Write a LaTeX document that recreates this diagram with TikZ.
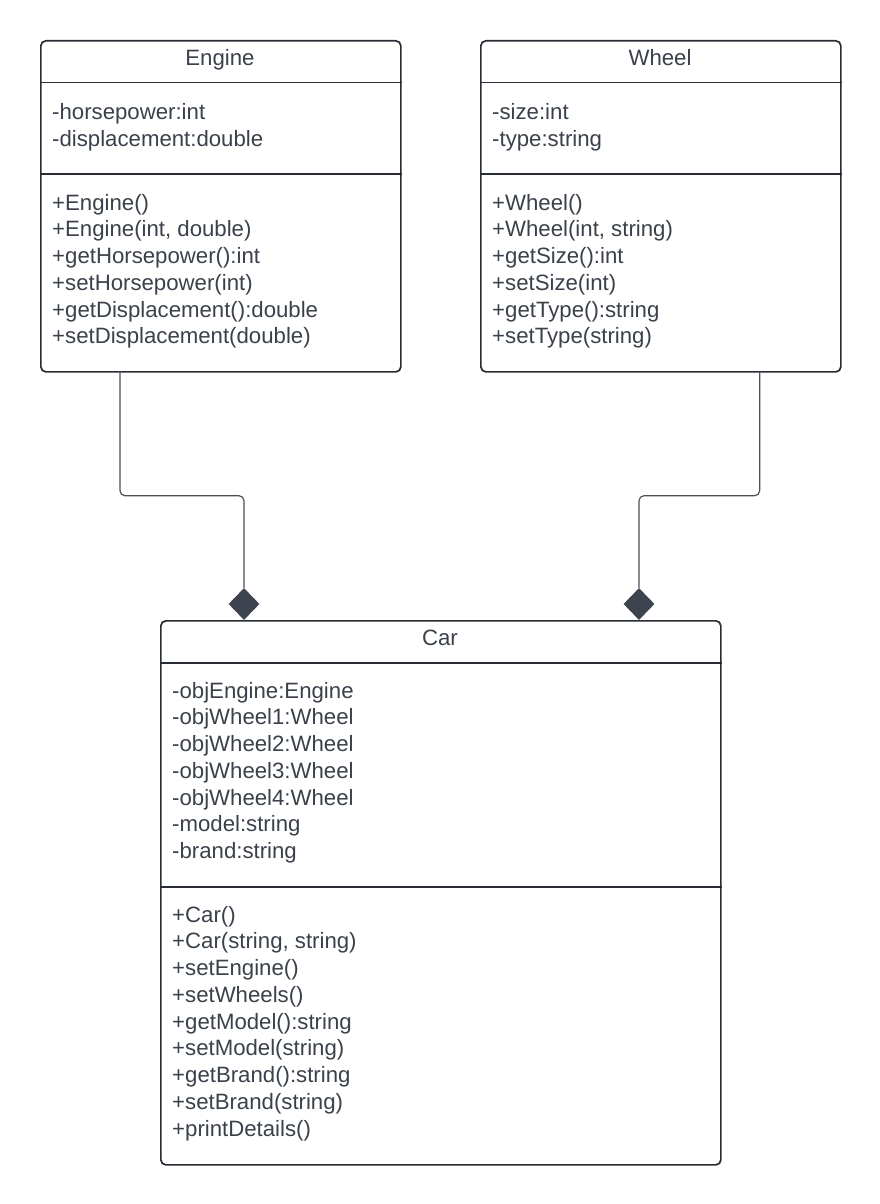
\documentclass[tikz,border=0pt]{standalone}
\usepackage{fontspec}
\setmainfont{Liberation Sans}
\usetikzlibrary{shapes.geometric}
\definecolor{linec}{HTML}{282C33}
\definecolor{textc}{HTML}{3A414A}
\definecolor{connc}{HTML}{4A5058}
\definecolor{diamc}{HTML}{3D4450}
\newcommand\classlines[4]{%
  \foreach \t [count=\i from 0] in {#4}
    \node[txt] (#1\i) at (#2, #3+\i*26.75) {\t};}
\begin{document}
\begin{tikzpicture}[x=1pt,y=-1pt,
  classbox/.style={draw=linec, line width=1.7pt, rounded corners=5pt, anchor=north west, inner sep=0pt},
  sepline/.style={draw=linec, line width=1.7pt},
  ttl/.style={font=\fontsize{22.2}{26}\selectfont, text=textc, anchor=base, inner sep=0pt},
  txt/.style={font=\fontsize{22.2}{26}\selectfont, text=textc, anchor=base west, inner sep=0pt},
  conn/.style={draw=connc, line width=1.2pt, rounded corners=5pt},
  comp/.style={diamond, fill=diamc, minimum width=31pt, minimum height=32pt, inner sep=0pt}]
\useasboundingbox (0,0) rectangle (880,1204);

% Engine
\node[classbox, minimum width=360pt, minimum height=331pt] (engine) at (40,40) {};
\node[ttl] (engineT) at (220,66) {Engine};
\draw[sepline] (engine.west |- 0,82.5) -- (engine.east |- 0,82.5);
\draw[sepline] (engine.west |- 0,174) -- (engine.east |- 0,174);
\classlines{ea}{52}{119.5}{-horsepower:int, -displacement:double}
\classlines{em}{52}{210}{+Engine(), {+Engine(int, double)}, +getHorsepower():int, +setHorsepower(int), +getDisplacement():double, +setDisplacement(double)}

% Wheel
\node[classbox, minimum width=360pt, minimum height=331pt] (wheel) at (480,40) {};
\node[ttl] (wheelT) at (660,66) {Wheel};
\draw[sepline] (wheel.west |- 0,82.5) -- (wheel.east |- 0,82.5);
\draw[sepline] (wheel.west |- 0,174) -- (wheel.east |- 0,174);
\classlines{wa}{492}{119.5}{-size:int, -type:string}
\classlines{wm}{492}{210}{+Wheel(), {+Wheel(int, string)}, +getSize():int, +setSize(int), +getType():string, +setType(string)}

% Car
\node[classbox, minimum width=560pt, minimum height=544pt] (car) at (160,620) {};
\node[ttl] (carT) at (440,645) {Car};
\draw[sepline] (car.west |- 0,663) -- (car.east |- 0,663);
\draw[sepline] (car.west |- 0,887) -- (car.east |- 0,887);
\classlines{ca}{172}{698}{-objEngine:Engine, -objWheel1:Wheel, -objWheel2:Wheel, -objWheel3:Wheel, -objWheel4:Wheel, -model:string, -brand:string}
\classlines{cm}{172}{922}{+Car(), {+Car(string, string)}, +setEngine(), +setWheels(), +getModel():string, +setModel(string), +getBrand():string, +setBrand(string), +printDetails()}

% Composition diamonds
\node[comp] (dE) at (244,604) {};
\node[comp] (dW) at (639,604) {};

% Connectors
\draw[conn] ([xshift=80pt]engine.south west) -- ++(0,123) -| (dE.north);
\draw[conn] ([xshift=-82pt]wheel.south east) -- ++(0,123) -| (dW.north);
\end{tikzpicture}
\end{document}
